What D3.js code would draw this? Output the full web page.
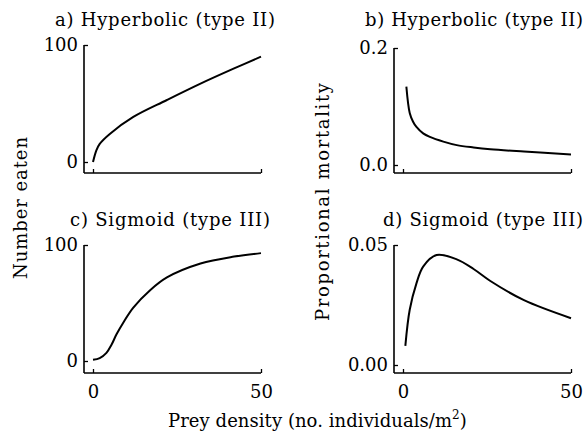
<!DOCTYPE html>
<meta charset="utf-8">
<style>
body { margin: 0; background: #fff; }
svg text { font-family: "DejaVu Serif", "Liberation Serif", serif; fill: #000; }
.axis text { font-size: 18px; }
.axis line { stroke: #000; stroke-width: 1.3px; }
.frame { stroke: #000; stroke-width: 1.6px; }
.curve { fill: none; stroke: #000; stroke-width: 2px; }
.title { font-size: 18px; }
.label { font-size: 18px; }
</style>
<svg width="587" height="437"></svg>
<script src="https://d3js.org/d3.v7.min.js"></script>
<script>

var svg = d3.select("svg");

// a) hyperbolic, number eaten
var aX = [0, 1, 2, 5, 12, 22, 32, 42, 50];
var aY = [0, 10, 15.5, 24, 38.5, 53, 67, 80, 90];
// b) hyperbolic, proportional mortality
var bX = [1, 2, 3, 4, 6, 8, 12, 16, 21, 26, 36, 50];
var bY = [0.134, 0.089, 0.074, 0.065, 0.054, 0.048, 0.040, 0.034, 0.030, 0.027, 0.023, 0.018];
// c) sigmoid, number eaten
var cX = [0, 2, 4, 5.5, 7, 9, 12, 17, 22, 32, 42, 50];
var cY = [1, 2.5, 7, 14, 23, 33, 46, 61, 72, 84, 90, 93];
// d) sigmoid, proportional mortality
var dX = [0.7, 2, 4, 6, 10, 16, 21, 26, 36, 50];
var dY = [0.008, 0.023, 0.034, 0.041, 0.0458, 0.044, 0.040, 0.035, 0.027, 0.0195];

var titles = ["a) Hyperbolic (type II)", "b) Hyperbolic (type II)", "c) Sigmoid (type III)", "d) Sigmoid (type III)"];
var yTicks = [[0, 100], [0, 0.2], [0, 100], [0, 0.05]];
var yFormats = ["d", ".1f", "d", ".2f"];
var xTicks = [0, 50];

var panels = [
  {x: aX, y: aY, left: 84, x0: 93, x1: 261, yTop: 45, yZero: 162, base: 173, row: 0, tx: 165, tw: 220},
  {x: bX, y: bY, left: 394, x0: 403, x1: 571, yTop: 48, yZero: 165, base: 173, row: 0, tx: 474, tw: 218},
  {x: cX, y: cY, left: 84, x0: 93, x1: 261, yTop: 245, yZero: 361, base: 373, row: 1, tx: 170, tw: 200},
  {x: dX, y: dY, left: 394, x0: 403, x1: 571, yTop: 245, yZero: 365, base: 373, row: 1, tx: 483, tw: 200}
];

panels.forEach(function(p, i) {
  var g = svg.append("g");

  var x = d3.scaleLinear().domain([0, 50]).range([p.x0, p.x1]);
  var y = d3.scaleLinear().domain(yTicks[i]).range([p.yZero, p.yTop]);

  // frame (left spine and bottom line)
  g.append("line").attr("class", "frame")
      .attr("x1", p.left).attr("x2", p.left)
      .attr("y1", p.yTop).attr("y2", p.base);
  g.append("line").attr("class", "frame")
      .attr("x1", p.left).attr("x2", x(50))
      .attr("y1", p.base).attr("y2", p.base);

  // y axis, inward ticks
  var ya = g.append("g").attr("class", "axis")
      .attr("transform", "translate(" + p.left + ",0)")
      .call(d3.axisLeft(y).tickValues(yTicks[i]).tickFormat(d3.format(yFormats[i]))
        .tickSizeInner(-4).tickSizeOuter(0).tickPadding(6));
  ya.select(".domain").remove();

  // x axis, inward ticks, labels on bottom row only
  var xa = g.append("g").attr("class", "axis")
      .attr("transform", "translate(0," + p.base + ")")
      .call(d3.axisBottom(x).tickValues(xTicks)
        .tickSizeInner(-4).tickSizeOuter(0).tickPadding(12));
  xa.select(".domain").remove();
  if (p.row === 0) xa.selectAll("text").remove();

  var pts = p.x.map(function(v, k) { return [v, p.y[k]]; });
  g.append("path").attr("class", "curve")
      .attr("d", d3.line()
        .x(function(d) { return x(d[0]); })
        .y(function(d) { return y(d[1]); })
        .curve(d3.curveCatmullRom.alpha(0.5))(pts));

  g.append("text").attr("class", "title")
      .attr("x", p.tx)
      .attr("y", p.row === 0 ? 26 : 226)
      .attr("text-anchor", "middle")
      .attr("textLength", p.tw)
      .attr("lengthAdjust", "spacing")
      .text(titles[i]);
});

svg.append("text").attr("class", "label")
    .attr("transform", "translate(27,208) rotate(-90)")
    .attr("text-anchor", "middle")
    .attr("textLength", 142)
    .attr("lengthAdjust", "spacing")
    .text("Number eaten");

svg.append("text").attr("class", "label")
    .attr("transform", "translate(329,202) rotate(-90)")
    .attr("text-anchor", "middle")
    .attr("textLength", 238)
    .attr("lengthAdjust", "spacing")
    .text("Proportional mortality");

var xl = svg.append("text").attr("class", "label")
    .attr("x", 168).attr("y", 427);
xl.append("tspan").attr("textLength", 284).attr("lengthAdjust", "spacing")
    .text("Prey density (no. individuals/m");
xl.append("tspan").attr("dy", -8).attr("font-size", 12).text("2");
xl.append("tspan").attr("dy", 8).text(")");

</script>
